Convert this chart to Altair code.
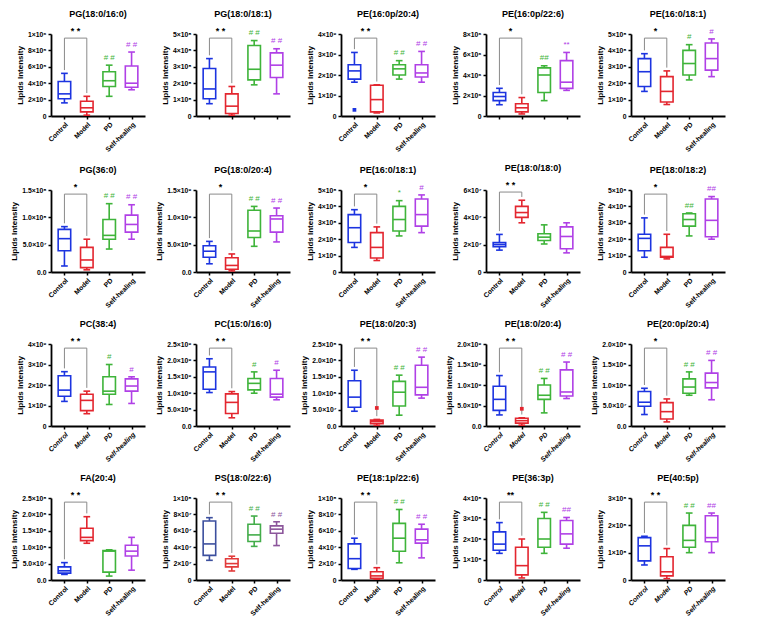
import json
import altair as alt
import pandas as pd

GROUPS = ["Control", "Model", "PD", "Self-healing"]
COLORS = ["#1c34e0", "#e3262f", "#3fb43a", "#b040e6"]
COLORS_PS = ["#3c4f9e", "#e23b3b", "#43ad4a", "#8c569b"]
FONT = "Liberation Sans"

# box statistics per group: (min, q1, median, q3, max), in axis units
pg_18_0_16_0 = [(1.6, 2.1, 2.7, 4.2, 5.2), (0.1, 0.5, 1.0, 1.8, 2.4), (2.4, 3.6, 4.3, 5.4, 6.2), (3.2, 3.5, 4.0, 6.1, 7.8)]
pg_18_0_18_1 = [(0.75, 1.05, 1.65, 2.9, 3.5), (0.05, 0.15, 0.6, 1.35, 1.8), (1.9, 2.2, 2.85, 4.3, 4.6), (1.35, 2.35, 3.1, 3.85, 4.1)]
pe_16_0p_20_4 = [(1.65, 1.8, 2.2, 2.5, 3.1), (0.15, 0.2, 0.8, 1.5, 1.52), (1.8, 2.0, 2.3, 2.5, 2.7), (1.65, 1.9, 2.1, 2.5, 3.15)]
pe_16_0p_22_6 = [(1.1, 1.5, 1.9, 2.3, 2.7), (0.2, 0.4, 0.8, 1.2, 1.8), (1.5, 2.3, 4.0, 4.7, 4.9), (2.5, 2.7, 3.3, 5.4, 6.2)]
pe_16_0_18_1 = [(1.5, 1.8, 2.7, 3.5, 3.8), (0.7, 0.85, 1.5, 2.4, 2.75), (2.2, 2.5, 3.2, 4.0, 4.35), (2.4, 2.8, 3.5, 4.45, 4.7)]
pg_36_0 = [(0.11, 0.39, 0.61, 0.78, 0.83), (0.04, 0.08, 0.22, 0.45, 0.6), (0.42, 0.6, 0.67, 0.96, 1.25), (0.6, 0.73, 0.87, 1.04, 1.23)]
pg_18_0_20_4 = [(0.15, 0.27, 0.38, 0.48, 0.56), (0.02, 0.05, 0.12, 0.26, 0.33), (0.47, 0.63, 0.75, 1.13, 1.2), (0.55, 0.73, 0.97, 1.03, 1.17)]
pe_18_0_18_0 = [(1.6, 1.85, 2.0, 2.15, 2.75), (3.6, 4.0, 4.35, 4.8, 5.25), (2.05, 2.3, 2.55, 2.8, 3.45), (1.4, 1.7, 2.6, 3.3, 3.6)]
pe_18_0_18_2 = [(0.9, 1.3, 2.05, 2.3, 3.3), (0.8, 0.9, 0.95, 1.5, 2.3), (2.2, 2.8, 3.2, 3.55, 3.6), (2.0, 2.15, 3.15, 4.45, 4.6)]
pc_38_4 = [(1.2, 1.45, 1.75, 2.45, 2.65), (0.6, 0.75, 1.25, 1.55, 1.7), (1.05, 1.55, 1.7, 2.4, 3.0), (1.1, 1.7, 1.95, 2.3, 2.4)]
pc_15_0_16_0 = [(1.02, 1.12, 1.65, 1.8, 2.05), (0.25, 0.38, 0.72, 0.98, 1.05), (1.0, 1.1, 1.3, 1.45, 1.65), (0.8, 0.88, 0.97, 1.45, 1.7)]
pe_18_0_20_3 = [(0.45, 0.57, 0.88, 1.38, 1.7), (0.02, 0.07, 0.13, 0.18, 0.2), (0.33, 0.61, 1.03, 1.36, 1.55), (0.85, 0.95, 1.18, 1.85, 2.1)]
pe_18_0_20_4 = [(0.27, 0.38, 0.65, 0.97, 1.23), (0.02, 0.07, 0.13, 0.19, 0.2), (0.32, 0.65, 0.75, 1.0, 1.16), (0.67, 0.73, 0.83, 1.37, 1.56)]
pe_20_0p_20_4 = [(0.28, 0.48, 0.58, 0.84, 0.92), (0.1, 0.17, 0.35, 0.57, 0.66), (0.75, 0.8, 0.95, 1.15, 1.32), (0.64, 0.93, 1.06, 1.29, 1.6)]
fa_20_4 = [(0.17, 0.21, 0.28, 0.4, 0.53), (1.12, 1.2, 1.3, 1.58, 1.93), (0.12, 0.24, 0.88, 0.9, 0.92), (0.3, 0.73, 0.88, 1.06, 1.3)]
ps_18_0_22_6 = [(2.4, 3.0, 4.4, 7.2, 7.6), (1.1, 1.6, 2.0, 2.6, 2.9), (4.1, 4.7, 5.5, 6.8, 7.8), (4.2, 5.7, 6.2, 6.6, 7.1)]
pe_18_1p_22_6 = [(1.3, 1.4, 2.6, 4.4, 5.1), (0.1, 0.2, 0.5, 1.0, 1.5), (2.1, 3.5, 5.1, 6.9, 8.6), (2.7, 4.5, 4.9, 6.2, 6.8)]
pe_36_3p = [(1.3, 1.45, 1.75, 2.35, 2.8), (0.1, 0.25, 0.7, 1.6, 2.0), (1.3, 1.6, 2.0, 3.0, 3.3), (1.55, 1.75, 2.25, 2.9, 3.05)]
pe_40_5p = [(0.55, 0.7, 1.25, 1.55, 1.6), (0.05, 0.15, 0.3, 0.85, 1.15), (1.0, 1.2, 1.45, 2.0, 2.45), (1.0, 1.4, 1.55, 2.35, 2.45)]

# y-axis ticks and their labels
T5 = [0, 2, 4, 6, 8, 10]
L5_e5 = ["0", "2×10⁵", "4×10⁵", "6×10⁵", "8×10⁵", "1×10⁶"]
L5_e7 = ["0", "2×10⁷", "4×10⁷", "6×10⁷", "8×10⁷", "1×10⁸"]
T_int5 = [0, 1, 2, 3, 4, 5]
L_int5_e8 = ["0", "1×10⁸", "2×10⁸", "3×10⁸", "4×10⁸", "5×10⁸"]
T_int4 = [0, 1, 2, 3, 4]
L_int4_e9 = ["0", "1×10⁹", "2×10⁹", "3×10⁹", "4×10⁹"]
L_int4_e8 = ["0", "1×10⁸", "2×10⁸", "3×10⁸", "4×10⁸"]
T_int3 = [0, 1, 2, 3]
L_int3_e8 = ["0", "1×10⁸", "2×10⁸", "3×10⁸"]
T_e6 = [0, 2, 4, 6, 8]
L_e6 = ["0", "2×10⁶", "4×10⁶", "6×10⁶", "8×10⁶"]
T_e7 = [0, 2, 4, 6]
L_e7 = ["0", "2×10⁷", "4×10⁷", "6×10⁷"]
T_h15 = [0, 0.5, 1.0, 1.5]
L_h15_e8 = ["0.0", "5.0×10⁷", "1.0×10⁸", "1.5×10⁸"]
L_h15_e9 = ["0.0", "5.0×10⁸", "1.0×10⁹", "1.5×10⁹"]
T_h20 = [0, 0.5, 1.0, 1.5, 2.0]
L_h20_e8 = ["0.0", "5.0×10⁷", "1.0×10⁸", "1.5×10⁸", "2.0×10⁸"]
L_h20_e9 = ["0.0", "5.0×10⁸", "1.0×10⁹", "1.5×10⁹", "2.0×10⁹"]
T_h25 = [0, 0.5, 1.0, 1.5, 2.0, 2.5]
L_h25_e8 = ["0.0", "5.0×10⁷", "1.0×10⁸", "1.5×10⁸", "2.0×10⁸", "2.5×10⁸"]
L_h25_e9 = ["0.0", "5.0×10⁸", "1.0×10⁹", "1.5×10⁹", "2.0×10⁹", "2.5×10⁹"]

W, H = 94, 82


def panel(title, stats, ticks, labels, sig, hashes, outliers=(), xlabels=True, italic=False, colors=COLORS):
    top = ticks[-1]
    rows = []
    for i, (g, s) in enumerate(zip(GROUPS, stats)):
        rows.append({"i": i, "g": g, "lo": s[0], "q1": s[1], "med": s[2], "q3": s[3], "hi": s[4], "c": colors[i],
                     "hash": hashes[i - 2] if i >= 2 else ""})
    df = pd.DataFrame(rows)
    xscale = alt.Scale(domain=[-0.6, 3.6], nice=False, zero=False)
    yscale = alt.Scale(domain=[0, top], nice=False)
    color = alt.Color("c:N", scale=None)
    xexpr = f"{json.dumps(GROUPS)}[datum.value]" if xlabels else "''"
    xaxis = alt.Axis(values=[0, 1, 2, 3], labelExpr=xexpr,
                     labelAngle=-45, labelAlign="right", labelBaseline="top",
                     labelOverlap=False, grid=False, title=None,
                     labelFontStyle="italic" if italic else "normal")
    yaxis = alt.Axis(values=ticks,
                     labelExpr=f"{json.dumps(labels, ensure_ascii=False)}[indexof({json.dumps(ticks)}, datum.value)]",
                     labelOverlap=False, grid=False, title="Lipids Intensity")

    def X(f):
        return alt.X(f, scale=xscale, axis=xaxis)

    def Y(f):
        return alt.Y(f, scale=yscale, axis=yaxis)

    base = alt.Chart(df).transform_calculate(
        xl="datum.i - 0.28", xr="datum.i + 0.28", cl="datum.i - 0.15", cr="datum.i + 0.15")
    whisk = base.mark_rule(strokeWidth=1.6).encode(x=X("i:Q"), y=Y("lo:Q"), y2="hi:Q", color=color)
    box = base.mark_rect(fill="white", strokeWidth=1.6).encode(
        x=X("xl:Q"), x2="xr:Q", y=Y("q1:Q"), y2="q3:Q", stroke=color)
    med = base.mark_rule(strokeWidth=1.6).encode(x=X("xl:Q"), x2="xr:Q", y=Y("med:Q"), color=color)
    cap_lo = base.mark_rule(strokeWidth=1.6).encode(x=X("cl:Q"), x2="cr:Q", y=Y("lo:Q"), color=color)
    cap_hi = base.mark_rule(strokeWidth=1.6).encode(x=X("cl:Q"), x2="cr:Q", y=Y("hi:Q"), color=color)
    hash_t = base.transform_calculate(yh=f"datum.hi + {top} * 0.04").mark_text(
        baseline="bottom", fontSize=8, font=FONT).encode(
        x=X("i:Q"), y=Y("yh:Q"), text="hash:N", color=color)
    layers = [whisk, box, med, cap_lo, cap_hi, hash_t]

    c_hi, m_hi = stats[0][4], stats[1][4]
    level = max(top * 0.95, max(c_hi, m_hi) + top * 0.1)
    seg = pd.DataFrame({
        "xa": [0, 1, 0], "xb": [0, 1, 1],
        "ya": [c_hi + top * 0.04, m_hi + top * 0.04, level], "yb": [level, level, level]})
    bracket = alt.Chart(seg).mark_rule(color="#8a8a8a", strokeWidth=1).encode(
        x=X("xa:Q"), x2="xb:Q", y=Y("ya:Q"), y2="yb:Q")
    star = alt.Chart(pd.DataFrame({"x": [0.5], "y": [level + top * 0.02], "t": [sig]})).mark_text(
        baseline="bottom", fontSize=9, font=FONT, fontWeight="bold").encode(
        x=X("x:Q"), y=Y("y:Q"), text="t:N")
    layers += [bracket, star]

    if outliers:
        odf = pd.DataFrame([{"i": i, "v": v, "c": colors[i]} for i, v in outliers])
        pts = alt.Chart(odf).mark_point(filled=True, shape="square", size=14, opacity=1).encode(
            x=X("i:Q"), y=Y("v:Q"), color=color)
        layers.append(pts)

    return alt.layer(*layers).properties(
        width=W, height=H,
        title=alt.TitleParams(title, fontSize=9, font=FONT, fontWeight="bold", offset=8))


panels = [
    panel("PG(18:0/16:0)", pg_18_0_16_0, T5, L5_e5, "* *", ["# #", "# #"]),
    panel("PG(18:0/18:1)", pg_18_0_18_1, T_int5, L_int5_e8, "* *", ["# #", "# #"], xlabels=False),
    panel("PE(16:0p/20:4)", pe_16_0p_20_4, T_int4, L_int4_e9, "* *", ["# #", "# #"], outliers=[(0, 0.3)]),
    panel("PE(16:0p/22:6)", pe_16_0p_22_6, T_e6, L_e6, "*", ["##", "**"], xlabels=False),
    panel("PE(16:0/18:1)", pe_16_0_18_1, T_int5, L_int5_e8, "*", ["#", "#"]),
    panel("PG(36:0)", pg_36_0, T_h15, L_h15_e8, "*", ["# #", "# #"]),
    panel("PG(18:0/20:4)", pg_18_0_20_4, T_h15, L_h15_e9, "*", ["# #", "# #"]),
    panel("PE(16:0/18:1)", pe_16_0_18_1, T_int5, L_int5_e8, "*", ["*", "#"]),
    panel("PE(18:0/18:0)", pe_18_0_18_0, T_e7, L_e7, "* *", ["", ""]),
    panel("PE(18:0/18:2)", pe_18_0_18_2, T_int5, L_int5_e8, "*", ["##", "##"]),
    panel("PC(38:4)", pc_38_4, T_int4, L_int4_e9, "* *", ["#", "#"], italic=True),
    panel("PC(15:0/16:0)", pc_15_0_16_0, T_h25, L_h25_e9, "* *", ["#", "#"]),
    panel("PE(18:0/20:3)", pe_18_0_20_3, T_h25, L_h25_e8, "* *", ["# #", "# #"], outliers=[(1, 0.55)]),
    panel("PE(18:0/20:4)", pe_18_0_20_4, T_h20, L_h20_e9, "* *", ["# #", "# #"], outliers=[(1, 0.42)], italic=True),
    panel("PE(20:0p/20:4)", pe_20_0p_20_4, T_h20, L_h20_e8, "*", ["# #", "# #"], italic=True),
    panel("FA(20:4)", fa_20_4, T_h25, L_h25_e8, "* *", ["", ""]),
    panel("PS(18:0/22:6)", ps_18_0_22_6, T5, L5_e7, "* *", ["# #", "# #"], colors=COLORS_PS),
    panel("PE(18:1p/22:6)", pe_18_1p_22_6, T5, L5_e7, "* *", ["# #", "# #"]),
    panel("PE(36:3p)", pe_36_3p, T_int4, L_int4_e8, "**", ["# #", "##"], italic=True),
    panel("PE(40:5p)", pe_40_5p, T_int3, L_int3_e8, "* *", ["# #", "##"], italic=True),
]

chart = alt.concat(*panels, columns=5).configure_concat(spacing=10).configure_view(
    stroke=None).configure_axis(
    domainColor="black", domainWidth=1.8, tickColor="black", tickWidth=1.5, tickSize=3,
    labelFont=FONT, labelFontSize=6.8, labelFontWeight="bold", labelColor="black",
    titleFont=FONT, titleFontSize=8, titleFontWeight="bold", titleColor="black", titlePadding=3,
    labelPadding=2
).properties(background="white", padding=2)

chart.save("out.html", embed_options={"renderer": "svg", "actions": False})
